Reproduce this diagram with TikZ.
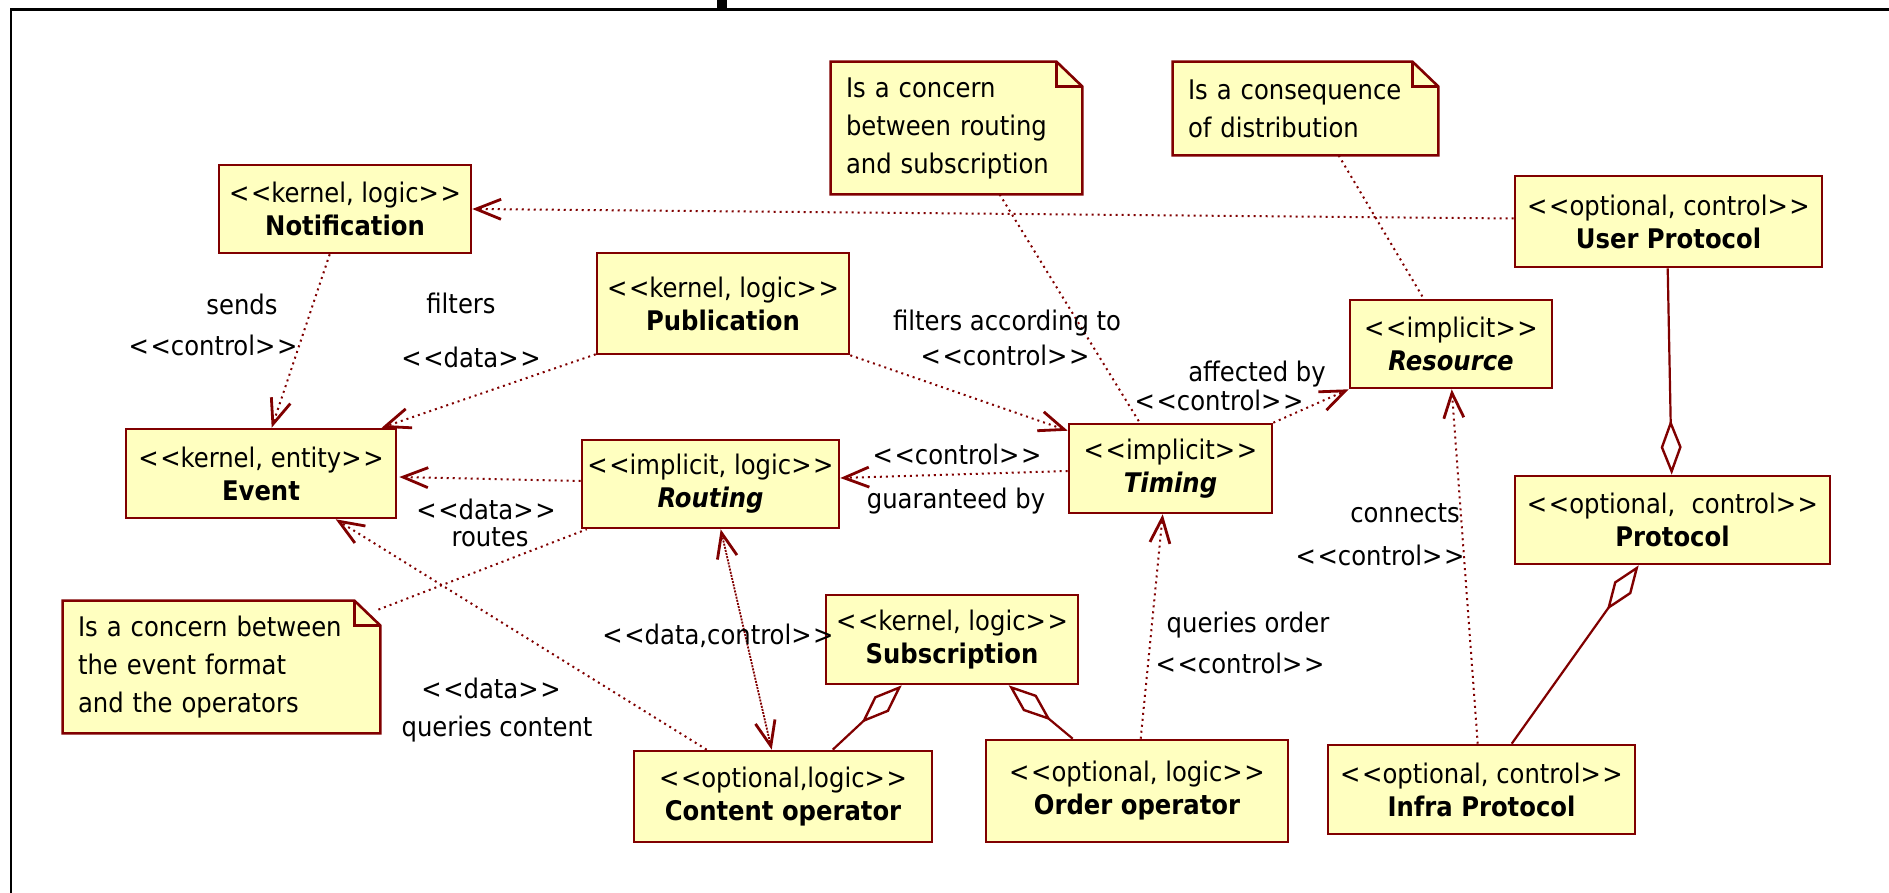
\documentclass[tikz,border=0pt]{standalone}
\usepackage{fontspec}
\setmainfont{DejaVu Sans Condensed}[Ligatures=TeXOff]
\usetikzlibrary{arrows.meta,calc,backgrounds}
\definecolor{umlred}{RGB}{128,0,0}
\definecolor{umlfill}{RGB}{255,255,192}
\newcommand{\stereo}[1]{<\kern0.8pt<#1>\kern0.8pt>}
% note outline with folded top-right corner, drawn behind the note text
\newcommand{\umlnote}[1]{%
  \begin{pgfonlayer}{background}
    \path[notebg] (#1.south west) -- (#1.north west) -- ($(#1.north east)+(-26,0)$)
      -- ($(#1.north east)+(0,25)$) -- (#1.south east) -- cycle;
    \draw[umlred, line width=1.3pt] ($(#1.north east)+(-26,0)$) -- ($(#1.north east)+(-26,25)$)
      -- ($(#1.north east)+(0,25)$);
  \end{pgfonlayer}}
\tikzset{
  umlclass/.style={draw=umlred, fill=umlfill, line width=1.3pt, inner sep=0pt,
    align=center, font=\fontsize{13.5}{16.5}\selectfont},
  notetext/.style={inner sep=0pt, align=left, font=\fontsize{13.5}{19}\selectfont},
  notebg/.style={draw=umlred, fill=umlfill, line width=1.3pt, line join=miter},
  lbl/.style={inner sep=0pt, font=\fontsize{13.5}{16}\selectfont},
  dep/.style={draw=umlred, line width=1pt, dash pattern=on 1pt off 2pt},
  assoc/.style={draw=umlred, line width=0.9pt, dash pattern=on 1pt off 0.6pt},
  openarrow/.style={arrows={-Straight Barb[length=12.5pt,width=10pt,line width=1.4pt]}},
  biarrow/.style={arrows={Straight Barb[length=12.5pt,width=10pt,line width=1.4pt]-Straight Barb[length=12.5pt,width=10pt,line width=1.4pt]}},
  aggr/.style={draw=umlred, line width=1.1pt,
    arrows={Diamond[fill=white,length=27.5pt,width=10.5pt,line width=1.2pt]-}},
}
\begin{document}
\begin{tikzpicture}[x=0.5pt,y=-0.5pt]
\useasboundingbox (0,0) rectangle (1889,893);

% frame
\fill (717,0) rectangle (727,10);
\draw[line width=1.6pt] (10,9.5) -- (1889,9.5);
\draw[line width=1.2pt] (11,9.5) -- (11,893);

% classes
\node[umlclass, minimum width=126pt, minimum height=44pt] (notif) at (345,209)
  {\stereo{kernel, logic}\\\textbf{Notification}};
\node[umlclass, minimum width=135pt, minimum height=44.5pt] (event) at (261,473.5)
  {\stereo{kernel, entity}\\\textbf{Event}};
\node[umlclass, minimum width=126pt, minimum height=50.5pt] (pub) at (723,303.5)
  {\stereo{kernel, logic}\\\textbf{Publication}};
\node[umlclass, minimum width=128.5pt, minimum height=44pt] (routing) at (710.5,484)
  {\stereo{implicit, logic}\\\textbf{\textit{Routing}}};
\node[umlclass, minimum width=101.5pt, minimum height=44.5pt] (timing) at (1170.5,468.5)
  {\stereo{implicit}\\\textbf{\textit{Timing}}};
\node[umlclass, minimum width=101pt, minimum height=44pt] (res) at (1451,344)
  {\stereo{implicit}\\\textbf{\textit{Resource}}};
\node[umlclass, minimum width=153.5pt, minimum height=45.5pt] (up) at (1668.5,221.5)
  {\stereo{optional, control}\\\textbf{User Protocol}};
\node[umlclass, minimum width=157.5pt, minimum height=44pt] (prot) at (1672.5,520)
  {\stereo{optional,\hspace{0.6em}control}\\\textbf{Protocol}};
\node[umlclass, minimum width=126pt, minimum height=44.5pt] (sub) at (952,639.5)
  {\stereo{kernel, logic}\\\textbf{Subscription}};
\node[umlclass, minimum width=149pt, minimum height=45.5pt] (co) at (783,796.5)
  {\stereo{optional,logic}\\\textbf{Content operator}};
\node[umlclass, minimum width=151pt, minimum height=51pt] (oo) at (1137,791)
  {\stereo{optional, logic}\\\textbf{Order operator}};
\node[umlclass, minimum width=153.5pt, minimum height=44.5pt] (ip) at (1481.5,789.5)
  {\stereo{optional, control}\\\textbf{Infra Protocol}};

% notes
\node[notetext, minimum width=125.5pt, minimum height=66pt, text width=110.5pt] (n1) at (956.5,128)
  {Is a concern\\between routing\\and subscription};
\umlnote{n1}
\node[notetext, minimum width=132.5pt, minimum height=46.5pt, text width=117.5pt] (n2) at (1305.5,108.5)
  {Is a consequence\\of distribution};
\umlnote{n2}
\node[notetext, minimum width=158.5pt, minimum height=66pt, text width=143.5pt] (n3) at (221.5,667)
  {Is a concern between\\the event format\\and the operators};
\umlnote{n3}

% dependencies
\draw[dep, openarrow] ($(up.west)+(0,-3)$) -- (notif.east);
\draw[dep, openarrow] ($(notif.south west)+(112,0)$) -- ($(event.north west)+(147,0)$);
\draw[dep, openarrow] ($(pub.south west)+(0,-1)$) -- ($(event.north west)+(257,0)$);
\draw[dep, openarrow] (pub.south east) -- ($(timing.north west)+(0,8)$);
\draw[dep, openarrow] ($(timing.west)+(0,2.5)$) -- ($(routing.east)+(0,-6)$);
\draw[dep, openarrow] ($(routing.west)+(0,-3)$) -- ($(event.east)+(2,3.5)$);
\draw[dep, openarrow] ($(co.north west)+(74,0)$) -- ($(event.south west)+(211,0)$);
\draw[dep, openarrow] ($(oo.north west)+(156,0)$) -- ($(timing.south west)+(95,0)$);
\draw[dep, openarrow] (timing.north east) -- (res.south west);
\draw[dep, openarrow] ($(ip.north west)+(151,0)$) -- ($(res.south west)+(103,0)$);
\draw[assoc, biarrow] ($(routing.south west)+(140,0)$) -- ($(co.north west)+(139,0)$);

% note anchors
\draw[dep] ($(n3.north east)+(-2,9)$) -- ($(routing.south west)+(6,0)$);
\draw[dep] ($(n1.south west)+(169,0)$) -- ($(timing.north west)+(72,0)$);
\draw[dep] ($(n2.south west)+(166,0)$) -- ($(res.north west)+(75,0)$);

% aggregations
\draw[aggr] ($(sub.south west)+(77,0)$) -- ($(co.north west)+(200,0)$);
\draw[aggr] ($(sub.south west)+(184,0)$) -- ($(oo.north west)+(88,0)$);
\draw[aggr] ($(prot.north west)+(158,0)$) -- ($(up.south west)+(154,0)$);
\draw[aggr] ($(prot.south west)+(125,0)$) -- ($(ip.north west)+(185,0)$);

% connector labels
\node[lbl] (lSends) at (242,304) {sends};
\node[lbl] (lSendsSt) at (213,345) {\stereo{control}};
\node[lbl] (lFilters) at (461,303) {filters};
\node[lbl] (lFiltersSt) at (471,357) {\stereo{data}};
\node[lbl] (lFiltAcc) at (1007,323) {filters according to};
\node[lbl] (lFiltAccSt) at (1005,355) {\stereo{control}};
\node[lbl] (lAffected) at (1257,374) {affected by};
\node[lbl] (lAffectedSt) at (1219,400) {\stereo{control}};
\node[lbl] (lGuarSt) at (957,454) {\stereo{control}};
\node[lbl] (lGuar) at (956,501) {guaranteed by};
\node[lbl] (lRoutesSt) at (486,509) {\stereo{data}};
\node[lbl] (lRoutes) at (490,537) {routes};
\node[lbl] (lDataCtl) at (718,636) {\stereo{data,control}};
\node[lbl] (lQcSt) at (491,688) {\stereo{data}};
\node[lbl] (lQc) at (497,729) {queries content};
\node[lbl] (lQo) at (1248,625) {queries order};
\node[lbl] (lQoSt) at (1240,663) {\stereo{control}};
\node[lbl] (lConn) at (1405,513) {connects};
\node[lbl] (lConnSt) at (1380,555) {\stereo{control}};
\end{tikzpicture}
\end{document}
